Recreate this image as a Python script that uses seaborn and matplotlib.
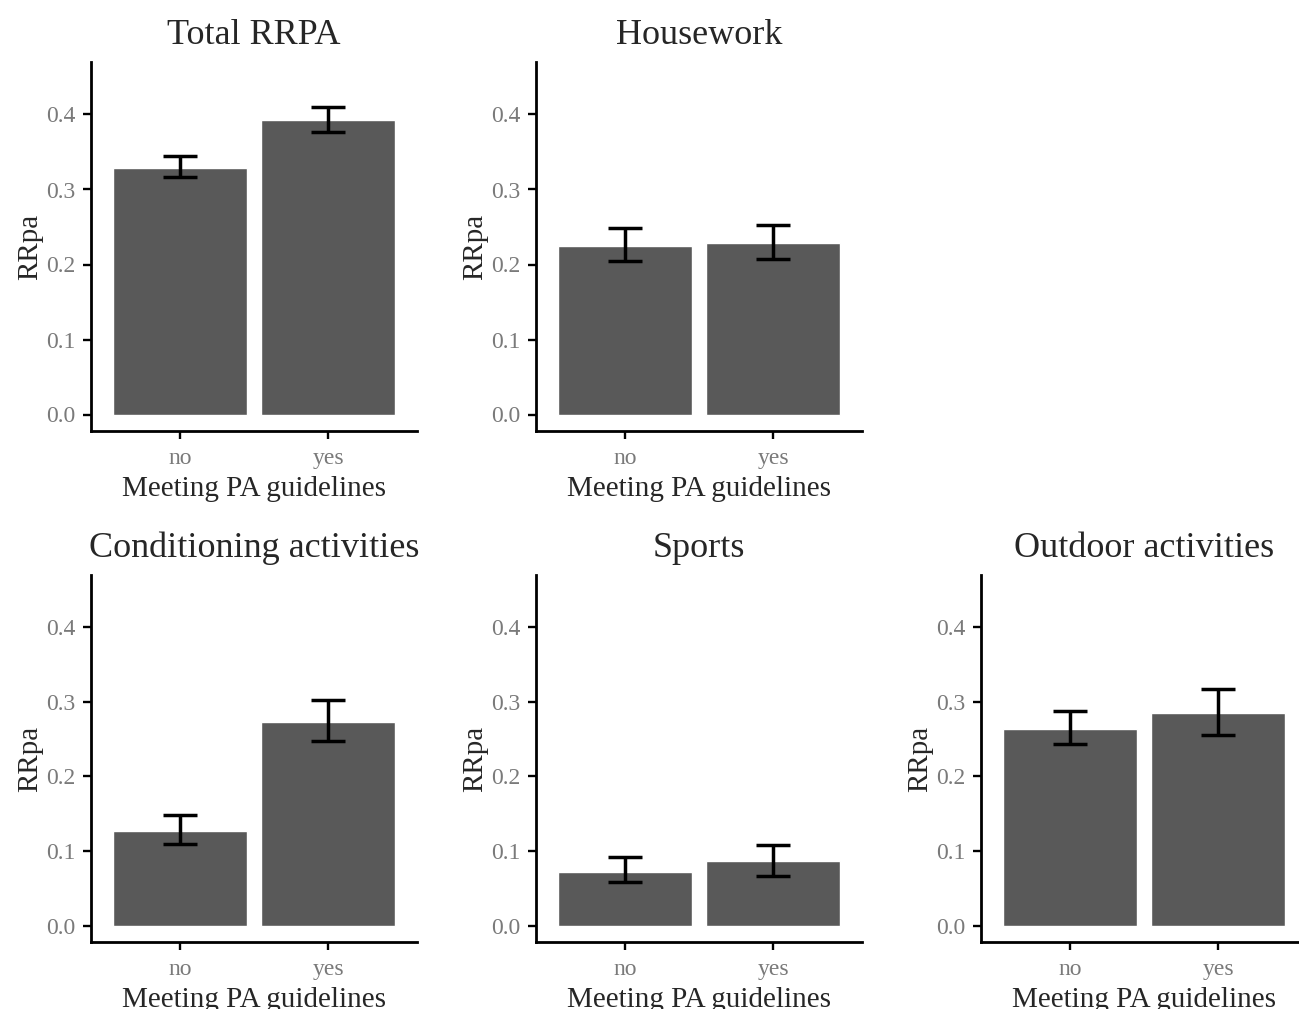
import pandas as pd
import matplotlib
matplotlib.use("Agg")
import matplotlib.pyplot as plt
import seaborn as sns

panels = ["Total RRPA", "Housework", "Conditioning activities", "Sports", "Outdoor activities"]
groups = ["no", "yes"]
mean_no = [0.328, 0.225, 0.127, 0.072, 0.264]
mean_yes = [0.392, 0.229, 0.273, 0.087, 0.285]
low_no = [0.316, 0.205, 0.110, 0.058, 0.244]
high_no = [0.345, 0.248, 0.148, 0.092, 0.288]
low_yes = [0.376, 0.207, 0.247, 0.066, 0.256]
high_yes = [0.410, 0.252, 0.302, 0.108, 0.317]

rows = []
for i, p in enumerate(panels):
    rows.append([p, "no", mean_no[i], low_no[i], high_no[i]])
    rows.append([p, "yes", mean_yes[i], low_yes[i], high_yes[i]])
df = pd.DataFrame(rows, columns=["panel", "guidelines", "RRpa", "low", "high"])

sns.set_style("white")
plt.rcParams['font.family'] = ['Liberation Serif', 'DejaVu Serif']

W, H = 1299, 1009
fig = plt.figure(figsize=(W / 100, H / 100), dpi=100)

# axes boxes in pixels: (left, top, width, height)
boxes = [(91, 62, 326, 369), (536, 62, 326, 369),
         (91, 575, 326, 367), (536, 575, 326, 367), (981, 575, 326, 367)]

for p, (l, t, w, h) in zip(panels, boxes):
    ax = fig.add_axes([l / W, 1 - (t + h) / H, w / W, h / H])
    sub = df[df["panel"] == p]
    sns.barplot(data=sub, x="guidelines", y="RRpa", order=groups, color="#595959",
                saturation=1, errorbar=None, width=0.9, ax=ax)
    yerr = [sub["RRpa"] - sub["low"], sub["high"] - sub["RRpa"]]
    ax.errorbar(range(len(groups)), sub["RRpa"], yerr=yerr, fmt="none",
                ecolor="black", elinewidth=2.5, capsize=12.5, capthick=2.5)
    ax.set_xlim(-0.6, 1.6)
    ax.set_ylim(-0.022, 0.47)
    ax.set_yticks([0.0, 0.1, 0.2, 0.3, 0.4])
    ax.set_yticklabels(["0.0", "0.1", "0.2", "0.3", "0.4"])
    sns.despine(ax=ax)
    for s in ["left", "bottom"]:
        ax.spines[s].set_linewidth(2)
        ax.spines[s].set_color("black")
    ax.tick_params(axis="both", length=5.5, width=1.7, color="black",
                   labelsize=17, labelcolor="#7a7a7a", left=True, bottom=True)
    ax.tick_params(axis="y", pad=6)
    ax.tick_params(axis="x", pad=7)
    ax.set_title(p, fontsize=26, pad=13)
    ax.set_xlabel("Meeting PA guidelines", fontsize=21, labelpad=5)
    ax.set_ylabel("RRpa", fontsize=21, labelpad=2)

fig.savefig("out.png", dpi=100)
